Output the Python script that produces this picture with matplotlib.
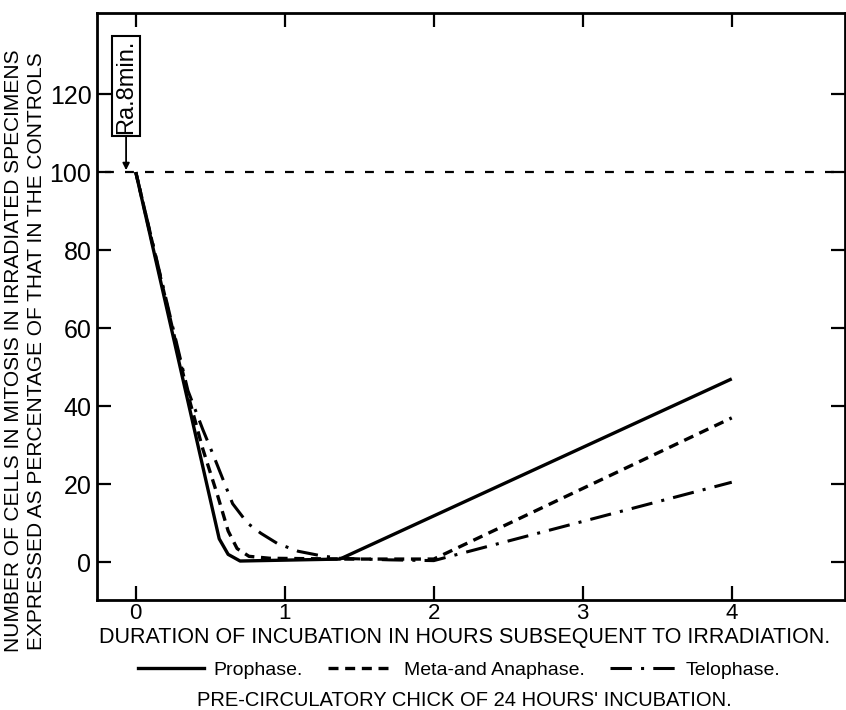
import matplotlib
matplotlib.use("Agg")
import matplotlib.pyplot as plt
from matplotlib.lines import Line2D

plt.rcParams["font.family"] = ["Liberation Sans", "DejaVu Sans"]

# hours after irradiation vs. mitoses as % of controls
pro_x = [0, 0.56, 0.62, 0.70, 1.37, 4.0]
pro_y = [100, 6, 2, 0.3, 0.8, 47]

meta_x = [0, 0.35, 0.45, 0.55, 0.62, 0.68, 0.76, 0.90, 1.40, 2.0, 4.0]
meta_y = [100, 43, 29, 17, 8, 3.5, 1.5, 1.0, 0.8, 0.8, 37]

telo_x = [0, 0.35, 0.45, 0.52, 0.65, 0.75, 0.84, 0.95, 1.09, 1.25, 1.37, 1.7, 2.0, 4.0]
telo_y = [100, 44, 34, 27.5, 15, 10, 7.4, 4.8, 2.8, 1.6, 1.0, 0.6, 0.4, 20.5]

x_ticks = [0, 1, 2, 3, 4]
y_ticks = [0, 20, 40, 60, 80, 100, 120]
labels = ["Prophase.", "Meta-and Anaphase.", "Telophase."]

fig = plt.figure(figsize=(8.46, 7.10), dpi=100)
ax = fig.add_axes([0.1147, 0.1549, 0.8841, 0.8268])

ax.plot(pro_x, pro_y, color="black", lw=2.4, solid_capstyle="butt")
ax.plot(meta_x, meta_y, color="black", lw=2.4, ls=(0, (3, 2)))
ax.plot(telo_x, telo_y, color="black", lw=2.2, ls=(0, (7, 3, 1, 3)))

ax.axhline(100, xmin=0.01, color="black", lw=1.6, ls=(0, (4, 5)))

ax.annotate("Ra.8min.", xy=(-0.065, 100.5), xytext=(-0.065, 122),
            rotation=90, ha="center", va="center", fontsize=17,
            bbox=dict(boxstyle="square,pad=0.12", fc="white", ec="black", lw=1.5),
            arrowprops=dict(arrowstyle="-|>", color="black", lw=1.3,
                            mutation_scale=10, shrinkA=0, shrinkB=0))

ax.set_xlim(-0.26, 4.76)
ax.set_ylim(-9.7, 140.8)
ax.set_xticks(x_ticks)
ax.set_yticks(y_ticks)
ax.tick_params(direction="in", length=10, width=1.6, top=True, right=True)
ax.tick_params(axis="y", labelsize=18, pad=4)
ax.tick_params(axis="x", labelsize=16, pad=2)
for s in ax.spines.values():
    s.set_linewidth(2)

ax.set_xlabel("DURATION OF INCUBATION IN HOURS SUBSEQUENT TO IRRADIATION.",
              fontsize=15.5, va="center")
ax.xaxis.set_label_coords(0.492, -0.063)

fig.text(14 / 846, 0.5056, "NUMBER OF CELLS IN MITOSIS IN IRRADIATED SPECIMENS",
         rotation=90, ha="center", va="center", fontsize=15)
fig.text(37 / 846, 0.5056, "EXPRESSED AS PERCENTAGE OF THAT IN THE CONTROLS",
         rotation=90, ha="center", va="center", fontsize=15)

handles = [Line2D([], [], color="black", lw=2.4),
           Line2D([], [], color="black", lw=2.4, ls=(0, (3, 2))),
           Line2D([], [], color="black", lw=2.2, ls=(0, (7, 3, 1, 3)))]
fig.legend(handles, labels, loc="center", bbox_to_anchor=(0.5426, 0.0563),
           ncol=3, frameon=False, fontsize=14, handlelength=3.4,
           columnspacing=1.3, handletextpad=0.5, borderaxespad=0, borderpad=0)

fig.text(0.549, (710 - 700) / 710, "PRE-CIRCULATORY CHICK OF 24 HOURS' INCUBATION.",
         ha="center", va="center", fontsize=14.5)

fig.savefig("out.png", dpi=100)
